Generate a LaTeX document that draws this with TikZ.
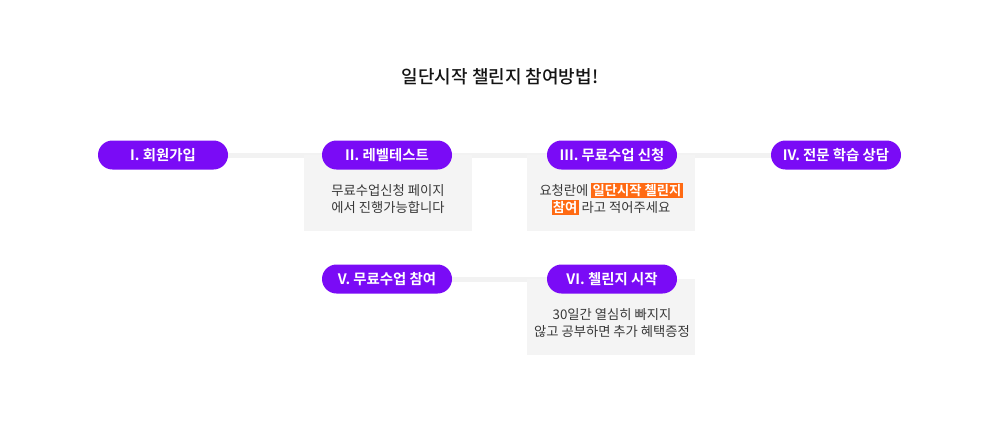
\documentclass[tikz,border=0pt]{standalone}
\usepackage{fontspec}
\setmainfont{Noto Sans CJK KR}[BoldFont={Noto Sans CJK KR Bold}]
\newfontfamily\krmed{Noto Sans CJK KR Medium}
\usetikzlibrary{backgrounds}
\definecolor{pillc}{HTML}{7A0BF6}
\definecolor{linec}{HTML}{F2F2F2}
\definecolor{boxc}{HTML}{F4F4F4}
\definecolor{hlc}{HTML}{FF6A13}
\definecolor{txtc}{HTML}{383838}
\newcommand{\hlbox}[1]{{\setlength\fboxsep{1.2pt}\smash{\colorbox{hlc}{\textcolor{white}{\bfseries #1}}}}}
\tikzset{
  pill/.style={fill=pillc, text=white, rounded corners=14.5pt, minimum width=130pt, minimum height=29pt, inner sep=0pt, font=\fontsize{14.4}{16}\bfseries},
  greybox/.style={fill=boxc, draw=none, minimum width=168pt, minimum height=76pt, inner sep=0pt},
  boxtext/.style={text=txtc, align=center, font=\fontsize{13.3}{16.5}\selectfont, inner sep=0pt},
  joinline/.style={draw=linec, line width=5pt}
}
\begin{document}
\begin{tikzpicture}[x=1pt,y=-1pt]
\useasboundingbox (0,0) rectangle (1000,421);
% grey boxes
\node[greybox, anchor=north west] (bII) at (304,155) {};
\node[greybox, anchor=north west] (bIII) at (527,155) {};
\node[greybox, anchor=north west] (bVI) at (527,279) {};
% title
\node[text=black!92, font=\fontsize{18}{20}\krmed] (title) at (500,77) {일단시작 챌린지 참여방법!};
% pills
\node[pill] (p1) at (163,155) {I. 회원가입};
\node[pill] (p2) at (387,155) {II. 레벨테스트};
\node[pill] (p3) at (612,155) {III. 무료수업 신청};
\node[pill] (p4) at (836,155) {IV. 전문 학습 상담};
\node[pill] (p5) at (387,279) {V. 무료수업 참여};
\node[pill] (p6) at (612,279) {VI. 첼린지 시작};
% connectors
\begin{scope}[on background layer]
\draw[joinline] (p1) -- (p2);
\draw[joinline] (p2) -- (p3);
\draw[joinline] (p3) -- (p4);
\draw[joinline] (p5) -- (p6);
\end{scope}
% texts
\node[boxtext] (t2) at (388,199) {무료수업신청 페이지\\에서 진행가능합니다};
\node[boxtext] (t3) at (611,199) {요청란에 \hlbox{일단시작 첼린지}\\\hlbox{참여} 라고 적어주세요};
\node[boxtext] (t6) at (612,323) {30일간 열심히 빠지지\\않고 공부하면 추가 혜택증정};
\end{tikzpicture}
\end{document}
